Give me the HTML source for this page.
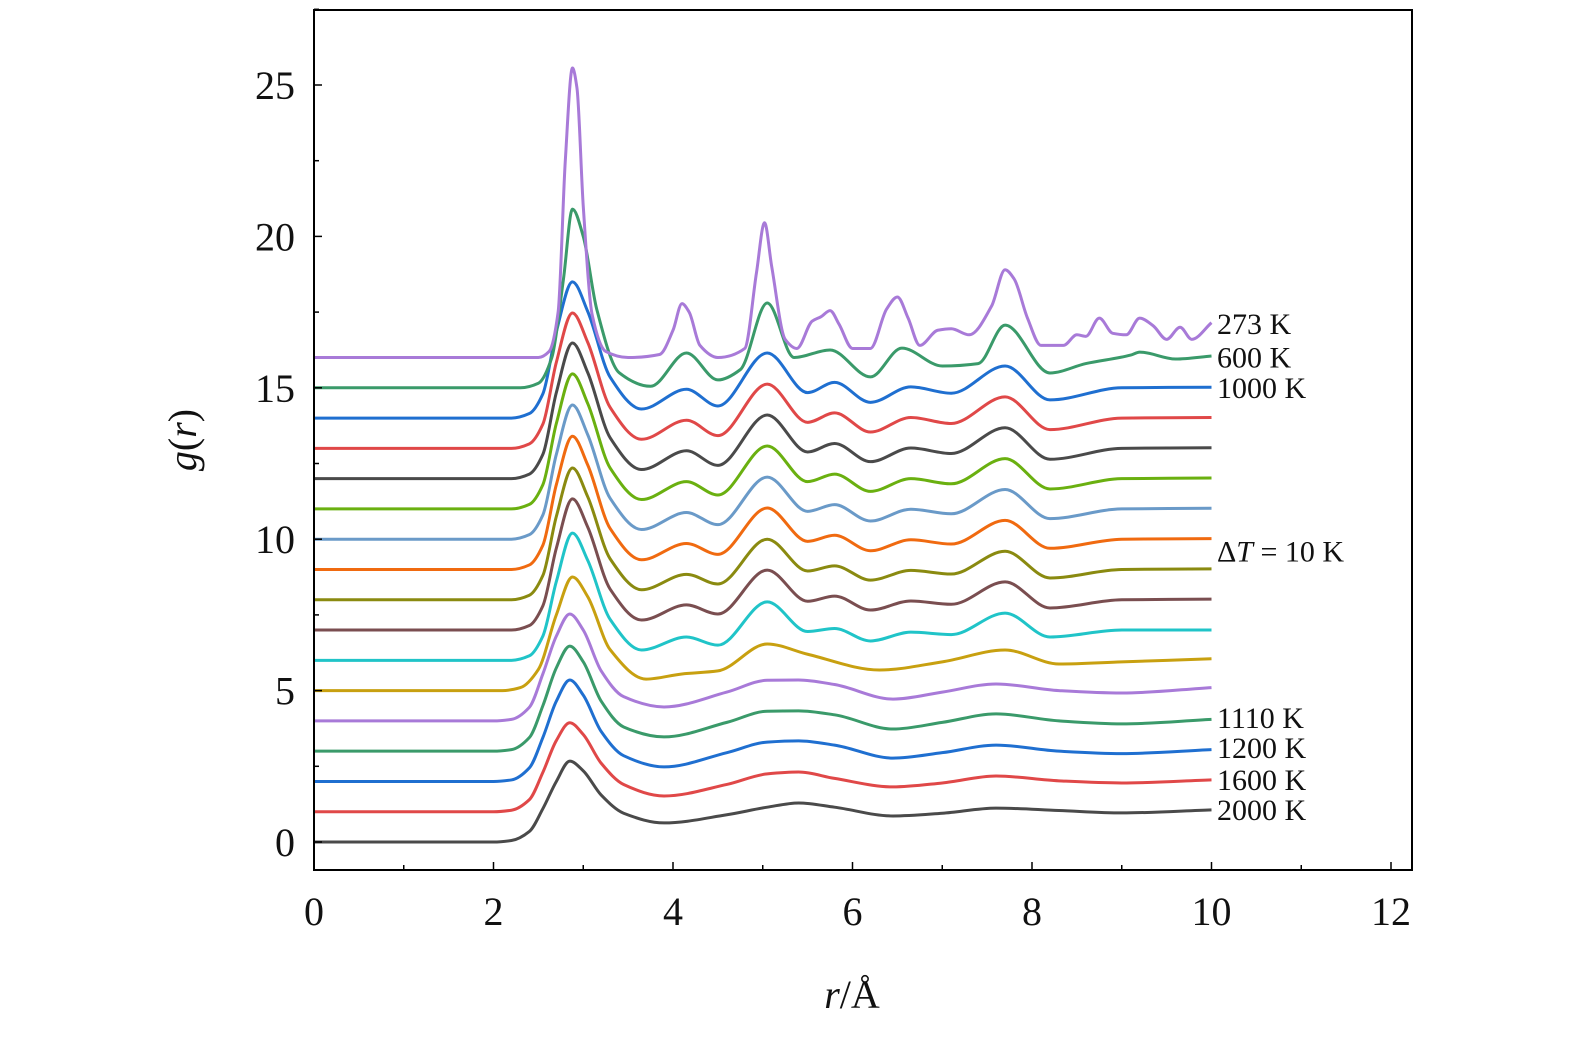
<!DOCTYPE html>
<html><head><meta charset="utf-8"><style>
html,body{margin:0;padding:0;background:#fff;}
svg text{font-family:"Liberation Serif",serif;fill:#111;}
</style></head><body>
<svg id="chart" width="1575" height="1033" viewBox="0 0 1575 1033" xmlns="http://www.w3.org/2000/svg">
<g id="curves"></g>
<rect x="314" y="10" width="1098" height="860" fill="none" stroke="#000" stroke-width="2"/>
<g id="ticks"></g>
<g id="labels"></g>
<text x="852" y="1008" font-size="40" text-anchor="middle"><tspan font-style="italic">r</tspan>/Å</text>
<text transform="translate(196,440) rotate(-90)" font-size="40" text-anchor="middle"><tspan font-style="italic">g</tspan>(<tspan font-style="italic">r</tspan>)</text>
</svg>
<script>
const xTicks=[0,2,4,6,8,10,12];
const yTicks=[0,5,10,15,20,25];
const offsets=[0,1,2,3,4,5,6,7,8,9,10,11,12,13,14,15,16];
const colors=["#4a4a4a","#e04848","#1f6fd0","#3a9a6a","#a87ad8","#c8a010","#20c4c8","#7a4e50","#8a8a10","#f06a10","#6a9ac8","#6ab010","#4a4a4a","#e04848","#1f6fd0","#3a9a6a","#a87ad8"];
const labelTexts=["2000 K","1600 K","1200 K","1110 K","ΔT = 10 K","1000 K","600 K","273 K"];
const labelValues=[1.05,2.05,3.1,4.1,9.6,15.0,16.0,17.1];
const r_liquid=[0,2.0,2.2,2.4,2.55,2.7,2.85,3.0,3.2,3.45,3.9,4.6,5.05,5.4,5.8,6.45,7.0,7.6,8.3,9.0,10];
const g2000=[0,0,0.05,0.35,1.1,2.0,2.67,2.35,1.55,0.95,0.63,0.9,1.15,1.29,1.15,0.86,0.95,1.12,1.04,0.96,1.06];
const g1600=[0,0,0.05,0.4,1.3,2.35,2.94,2.55,1.6,0.9,0.52,0.9,1.25,1.31,1.1,0.82,0.95,1.18,1.02,0.95,1.05];
const g1200=[0,0,0.05,0.45,1.45,2.65,3.35,2.85,1.65,0.85,0.48,0.95,1.3,1.34,1.2,0.77,0.95,1.2,1.0,0.92,1.05];
const g1110=[0,0,0.05,0.45,1.5,2.75,3.47,2.95,1.65,0.8,0.47,0.95,1.32,1.33,1.2,0.73,0.95,1.23,1.0,0.9,1.05];
const g1100=[0,0,0.05,0.45,1.55,2.8,3.53,3.0,1.65,0.8,0.46,0.95,1.34,1.35,1.2,0.72,0.95,1.22,1.0,0.92,1.1];
const r_trans=[0,2.1,2.3,2.5,2.7,2.88,3.05,3.3,3.7,4.1,4.5,5.05,5.5,6.3,7.0,7.7,8.3,9.0,10];
const g1090=[0,0,0.1,0.7,2.5,3.75,3.1,1.35,0.38,0.55,0.65,1.54,1.2,0.68,0.95,1.34,0.88,0.95,1.05];
const r_solid=[0,2.2,2.4,2.55,2.7,2.88,3.05,3.3,3.65,4.15,4.5,5.05,5.5,5.8,6.2,6.65,7.1,7.7,8.2,9.0,10];
const g1080=[0,0,0.15,0.8,2.6,4.2,3.3,1.35,0.34,0.77,0.5,1.93,0.95,1.05,0.64,0.93,0.85,1.56,0.77,1.0,1.0];
const g1070=[0,0,0.15,0.8,2.7,4.33,3.4,1.35,0.33,0.83,0.53,1.98,0.95,1.12,0.66,0.96,0.85,1.59,0.73,1.0,1.02];
const g1060=[0,0,0.15,0.8,2.75,4.35,3.4,1.35,0.33,0.84,0.52,2.0,0.95,1.12,0.65,0.97,0.85,1.6,0.72,1.0,1.02];
const g1050=[0,0,0.15,0.8,2.8,4.4,3.45,1.35,0.32,0.86,0.5,2.03,0.93,1.13,0.62,0.98,0.84,1.62,0.7,1.0,1.02];
const g1040=[0,0,0.15,0.8,2.8,4.43,3.45,1.35,0.32,0.88,0.48,2.05,0.92,1.14,0.6,0.99,0.84,1.64,0.68,1.0,1.02];
const g1030=[0,0,0.15,0.8,2.82,4.46,3.48,1.35,0.31,0.9,0.46,2.08,0.9,1.15,0.58,1.0,0.83,1.66,0.66,1.0,1.02];
const g1020=[0,0,0.15,0.8,2.84,4.48,3.5,1.35,0.3,0.92,0.44,2.1,0.88,1.16,0.56,1.01,0.83,1.68,0.64,1.0,1.02];
const g1010=[0,0,0.15,0.8,2.84,4.47,3.5,1.35,0.3,0.93,0.42,2.12,0.86,1.17,0.54,1.02,0.82,1.7,0.62,1.0,1.02];
const g1000=[0,0,0.15,0.8,2.85,4.5,3.52,1.35,0.3,0.95,0.4,2.15,0.84,1.18,0.52,1.03,0.82,1.72,0.6,1.0,1.02];
const r600=[0,2.3,2.5,2.65,2.78,2.88,3.0,3.15,3.4,3.75,4.15,4.5,4.75,5.05,5.35,5.75,6.2,6.55,7.0,7.4,7.7,8.2,8.6,9.1,9.2,9.6,10];
const g600=[0,0,0.15,1.0,3.6,5.9,5.0,2.6,0.5,0.05,1.15,0.26,0.6,2.8,1.0,1.25,0.36,1.31,0.72,0.8,2.07,0.49,0.8,1.08,1.18,0.95,1.05];
const r273=[0,2.5,2.62,2.72,2.8,2.88,2.93,3.0,3.1,3.25,3.5,3.85,4.0,4.1,4.18,4.3,4.5,4.8,4.93,5.02,5.1,5.25,5.38,5.55,5.65,5.75,5.85,6.0,6.2,6.38,6.5,6.62,6.75,6.95,7.1,7.3,7.55,7.7,7.8,7.95,8.1,8.35,8.5,8.6,8.75,8.9,9.05,9.2,9.35,9.5,9.65,9.78,10];
const g273=[0,0,0.2,1.5,6.5,9.56,8.9,5.0,1.4,0.2,0.0,0.1,0.9,1.78,1.5,0.4,0.0,0.3,2.8,4.45,3.0,0.6,0.3,1.2,1.35,1.55,1.1,0.3,0.3,1.6,2.0,1.3,0.4,0.9,0.95,0.75,1.7,2.9,2.6,1.3,0.4,0.4,0.75,0.7,1.3,0.8,0.75,1.3,1.05,0.6,1.0,0.6,1.15];
const series=[[r_liquid,g2000],[r_liquid,g1600],[r_liquid,g1200],[r_liquid,g1110],[r_liquid,g1100],[r_trans,g1090],[r_solid,g1080],[r_solid,g1070],[r_solid,g1060],[r_solid,g1050],[r_solid,g1040],[r_solid,g1030],[r_solid,g1020],[r_solid,g1010],[r_solid,g1000],[r600,g600],[r273,g273]];

const NS="http://www.w3.org/2000/svg";
const X=v=>314+v*89.75;
const Y=v=>842-v*30.28;
function mk(tag,attrs,parent){const e=document.createElementNS(NS,tag);for(const k in attrs)e.setAttribute(k,attrs[k]);parent.appendChild(e);return e;}
function monotone(pts){
  const n=pts.length,m=[],t=[];
  for(let i=0;i<n-1;i++)m.push((pts[i+1][1]-pts[i][1])/(pts[i+1][0]-pts[i][0]));
  t[0]=m[0];t[n-1]=m[n-2];
  for(let i=1;i<n-1;i++){
    if(m[i-1]*m[i]<=0)t[i]=0;
    else{const h0=pts[i][0]-pts[i-1][0],h1=pts[i+1][0]-pts[i][0];
      const w1=2*h1+h0,w2=h1+2*h0;t[i]=(w1+w2)/(w1/m[i-1]+w2/m[i]);}
  }
  let d="M"+pts[0][0].toFixed(2)+","+pts[0][1].toFixed(2);
  for(let i=0;i<n-1;i++){
    const h=(pts[i+1][0]-pts[i][0])/3;
    d+=" C"+(pts[i][0]+h).toFixed(2)+","+(pts[i][1]+t[i]*h).toFixed(2)+" "+(pts[i+1][0]-h).toFixed(2)+","+(pts[i+1][1]-t[i+1]*h).toFixed(2)+" "+pts[i+1][0].toFixed(2)+","+pts[i+1][1].toFixed(2);
  }
  return d;
}
const cg=document.getElementById("curves");
series.forEach((s,i)=>{
  const pts=s[0].map((r,j)=>[X(r),Y(s[1][j]+offsets[i])]);
  const p=mk("path",{d:monotone(pts),fill:"none",stroke:colors[i],"stroke-width":3,"stroke-linejoin":"round"},cg);
  
  
});
const tg=document.getElementById("ticks");
for(let v=0;v<=12;v++){
  const len=(v%2===0)?8:5;
  const t=mk("line",{x1:X(v),x2:X(v),y1:870,y2:870-len,stroke:"#000","stroke-width":1.5},tg);
  
  
}
xTicks.forEach(v=>{
  const t=mk("text",{x:X(v),y:925,"font-size":40,"text-anchor":"middle"},tg);
  t.textContent=v;
  
  
});
for(let v=0;v<=27.5;v+=2.5){
  const len=(v%5===0)?8:5;
  const t=mk("line",{x1:314,x2:314+len,y1:Y(v),y2:Y(v),stroke:"#000","stroke-width":1.5},tg);
  
  
}
yTicks.forEach(v=>{
  const t=mk("text",{x:295,y:Y(v)+14,"font-size":40,"text-anchor":"end"},tg);
  t.textContent=v;
  
  
});
const lg=document.getElementById("labels");
labelTexts.forEach((txt,i)=>{
  const t=mk("text",{x:1217,y:Y(labelValues[i])+10,"font-size":30},lg);
  if(txt.startsWith("Δ")){t.innerHTML='Δ<tspan font-style="italic">T</tspan> = 10 K';}else t.textContent=txt;
  
  
});
</script>
</body></html>
